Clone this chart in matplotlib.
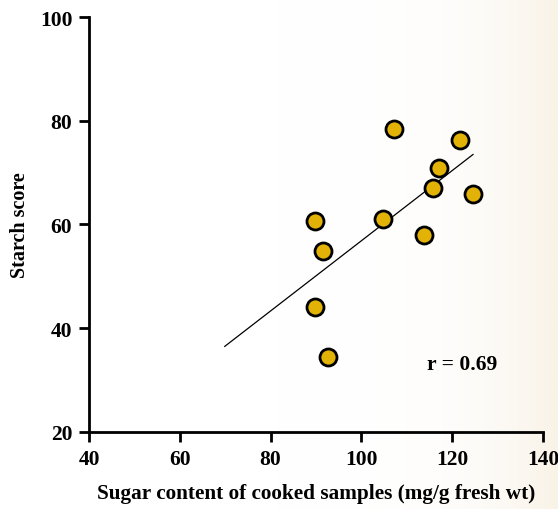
import numpy as np
import matplotlib.pyplot as plt
from matplotlib.colors import LinearSegmentedColormap

# sugar content (mg/g fresh wt) vs starch score for cooked samples
sugar = [107.2, 121.8, 117.0, 115.8, 124.6, 89.7, 104.7, 113.9, 91.5, 89.7, 92.7]
starch = [78.4, 76.2, 70.8, 67.0, 65.9, 60.6, 61.1, 57.9, 54.9, 44.1, 34.4]

# regression line drawn over the fitted range
fit_x = [69.9, 124.6]
fit_y = [36.5, 73.5]

r_text = "r = 0.69"
x_ticks = [40, 60, 80, 100, 120, 140]
y_ticks = [20, 40, 60, 80, 100]

plt.rcParams['font.family'] = ['Liberation Serif', 'DejaVu Serif']
plt.rcParams['font.weight'] = 'bold'

fig = plt.figure(figsize=(5.58, 5.10), dpi=100)

# faint warm wash along the right edge of the page
bg = fig.add_axes([0, 0, 1, 1], zorder=-10)
grad = np.linspace(0, 1, 256) ** 8
grad = np.tile(grad, (10, 1))
cmap = LinearSegmentedColormap.from_list('wash', ['#ffffff', '#f9f2e6'])
bg.imshow(grad, aspect='auto', cmap=cmap, extent=[0, 1, 0, 1])
bg.axis('off')

ax = fig.add_axes([0.1595, 0.151, 0.8135, 0.8137])
ax.patch.set_alpha(0)

ax.plot(fit_x, fit_y, color='black', linewidth=0.9, zorder=2)
ax.scatter(sugar, starch, s=150, facecolor='#E2B306', edgecolor='black',
           linewidth=2.0, zorder=3, clip_on=False)

ax.set_xlim(40, 140)
ax.set_ylim(20, 100)
ax.set_xticks(x_ticks)
ax.set_yticks(y_ticks)

for side in ['top', 'right']:
    ax.spines[side].set_visible(False)
for side in ['left', 'bottom']:
    ax.spines[side].set_linewidth(2.0)

ax.tick_params(direction='out', length=7, width=2.0, labelsize=15.5, pad=5)
for lbl in ax.get_xticklabels() + ax.get_yticklabels():
    lbl.set_fontweight('bold')

ax.set_xlabel('Sugar content of cooked samples (mg/g fresh wt)',
              fontsize=15.3, fontweight='bold', labelpad=10)
ax.set_ylabel('Starch score', fontsize=14.5, fontweight='bold', labelpad=7)

ax.text(122.2, 33.1, r_text, fontsize=15.5, fontweight='bold',
        ha='center', va='center')

fig.savefig('out.png', dpi=100)
